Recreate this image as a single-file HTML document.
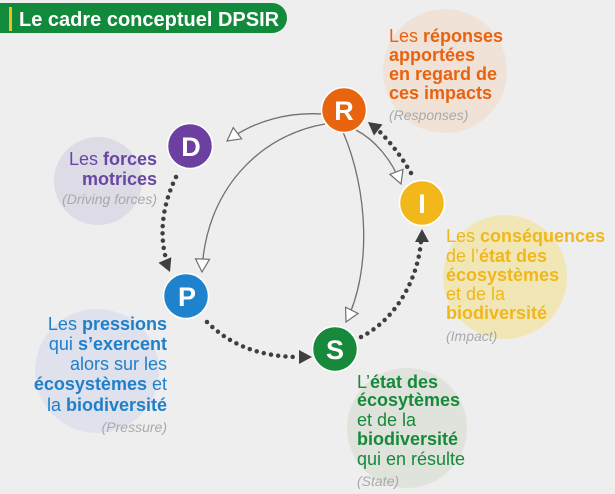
<!DOCTYPE html>
<html><head><meta charset="utf-8"><style>
html,body{margin:0;padding:0;background:#eeeeee;}
svg{display:block;}
text{font-family:"Liberation Sans",sans-serif;}
.b{font-weight:bold;}
.it{font-style:italic;fill:#a9a9a9;font-size:14px;}
</style></head><body>
<svg width="615" height="494" viewBox="0 0 615 494" xmlns="http://www.w3.org/2000/svg">
<defs>
<marker id="h" markerUnits="userSpaceOnUse" markerWidth="16" markerHeight="16" refX="13" refY="7" orient="auto" viewBox="-1 -1 16 16">
<path d="M0,0 L13,7 L0,14 Z" fill="#ffffff" stroke="#6f6f6f" stroke-width="1.2"/>
</marker>
<marker id="f" markerUnits="userSpaceOnUse" markerWidth="16" markerHeight="16" refX="13" refY="7" orient="auto" viewBox="-1 -1 16 16">
<path d="M0,0 L13,7 L0,14 Z" fill="#3f3f3f"/>
</marker>
</defs>
<rect width="615" height="494" fill="#eeeeee"/>

<!-- title -->
<path d="M0,3 H272 A15,15 0 0 1 272,33 H0 Z" fill="#128a3c"/>
<rect x="9" y="7" width="3" height="24" fill="#f2c01c"/>
<text x="19" y="26" fill="#ffffff" class="b" font-size="20">Le cadre conceptuel DPSIR</text>

<!-- background circles -->
<circle cx="98" cy="181" r="44" fill="#dddbe6"/>
<circle cx="445" cy="71" r="62" fill="#f0e2d7"/>
<circle cx="505" cy="277" r="62" fill="#f1e7b6"/>
<circle cx="97" cy="371" r="62" fill="#dfe1ec"/>
<circle cx="407" cy="428" r="60" fill="#dfe3dc"/>

<!-- hollow arrows -->
<g fill="none" stroke="#6f6f6f" stroke-width="1.3">
<path d="M322,114 C290,112 255,120 227,141" marker-end="url(#h)"/>
<path d="M325,124 C260,135 205,190 202,272" marker-end="url(#h)"/>
<path d="M343,132 C368,190 372,270 346,322" marker-end="url(#h)"/>
<path d="M356,130 C375,140 392,160 401,184" marker-end="url(#h)"/>
</g>

<!-- dotted arrows -->
<g fill="none" stroke="#3f3f3f" stroke-width="4.5" stroke-linecap="round" stroke-dasharray="0 7.3">
<path d="M176,177 C160,210 160,240 167,262"/>
<path d="M207,322 C230,345 260,357 300,357"/>
<path d="M361,337 C395,320 418,280 421,241"/>
<path d="M411,173 C402,158 393,145 379,131"/>
</g>
<g fill="none" stroke="none">
<path d="M160,230 C162,245 164,258 170,272" marker-end="url(#f)"/>
<path d="M280,357 C290,357 300,357 312,357" marker-end="url(#f)"/>
<path d="M421,255 C421,248 422,240 422,229" marker-end="url(#f)"/>
<path d="M390,140 C383,134 377,129 368,122" marker-end="url(#f)"/>
</g>

<!-- letter circles -->
<g stroke="#ffffff" stroke-width="1.5">
<circle cx="190" cy="146" r="22.5" fill="#6b40a1"/>
<circle cx="344" cy="110" r="22.5" fill="#e8640f"/>
<circle cx="422" cy="203" r="22.5" fill="#f2b71b"/>
<circle cx="186" cy="296" r="22.5" fill="#1f82cc"/>
<circle cx="335" cy="349" r="22.5" fill="#17893b"/>
</g>
<g fill="#ffffff" class="b" font-size="27" text-anchor="middle">
<text x="191" y="156" class="b">D</text>
<text x="344" y="120" class="b">R</text>
<text x="422" y="213" class="b">I</text>
<text x="187" y="306" class="b">P</text>
<text x="335" y="359" class="b">S</text>
</g>

<!-- D label -->
<g fill="#6a46a3" font-size="18" text-anchor="end">
<text x="157" y="165">Les <tspan class="b">forces</tspan></text>
<text x="157" y="185" class="b">motrices</text>
</g>
<text x="157" y="204" class="it" text-anchor="end">(Driving forces)</text>

<!-- R label -->
<g fill="#e8620f" font-size="18">
<text x="389" y="42">Les <tspan class="b">réponses</tspan></text>
<text x="389" y="61" class="b">apportées</text>
<text x="389" y="80" class="b">en regard de</text>
<text x="389" y="99" class="b">ces impacts</text>
</g>
<text x="389" y="120" class="it">(Responses)</text>

<!-- I label -->
<g fill="#f0b71c" font-size="18">
<text x="446" y="242">Les <tspan class="b">conséquences</tspan></text>
<text x="446" y="262">de l’<tspan class="b">état des</tspan></text>
<text x="446" y="281" class="b">écosystèmes</text>
<text x="446" y="300">et de la</text>
<text x="446" y="319" class="b">biodiversité</text>
</g>
<text x="446" y="341" class="it">(Impact)</text>

<!-- P label -->
<g fill="#1e80cb" font-size="18" text-anchor="end">
<text x="167" y="330">Les <tspan class="b">pressions</tspan></text>
<text x="167" y="350">qui <tspan class="b">s’exercent</tspan></text>
<text x="167" y="370">alors sur les</text>
<text x="167" y="390"><tspan class="b">écosystèmes</tspan> et</text>
<text x="167" y="411">la <tspan class="b">biodiversité</tspan></text>
</g>
<text x="167" y="432" class="it" text-anchor="end">(Pressure)</text>

<!-- S label -->
<g fill="#17893b" font-size="18">
<text x="357" y="388">L’<tspan class="b">état des</tspan></text>
<text x="357" y="406" class="b">écosytèmes</text>
<text x="357" y="426">et de la</text>
<text x="357" y="445" class="b">biodiversité</text>
<text x="357" y="465">qui en résulte</text>
</g>
<text x="357" y="486" class="it">(State)</text>
</svg>
</body></html>
